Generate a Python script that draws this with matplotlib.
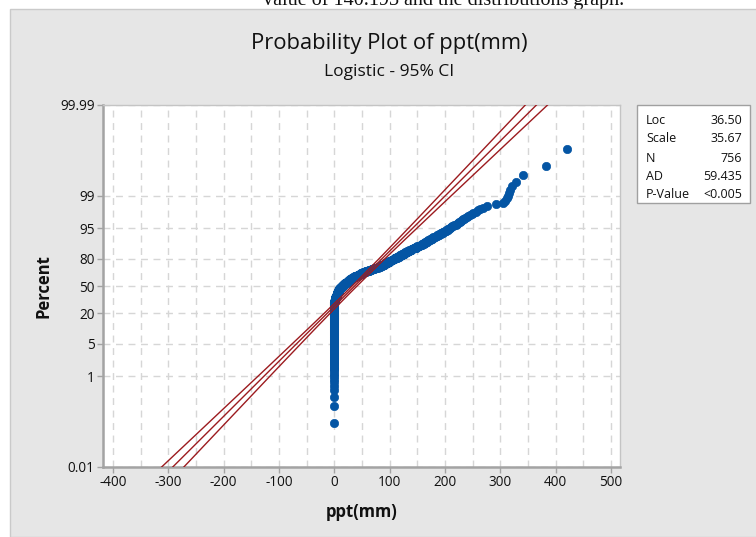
import numpy as np
import matplotlib
matplotlib.use("Agg")
import matplotlib.pyplot as plt
from matplotlib.patches import Rectangle
from matplotlib.ticker import MultipleLocator, NullLocator

# ---------------- data ----------------
# frequency table of ppt(mm) values
ppt_values = [0, 1, 2, 3, 4,
              5, 6, 7, 8, 9,
              10, 11, 12, 13, 14, 15, 16, 17, 18, 19,
              20, 21, 22, 23, 24, 25, 26, 27, 28, 29, 30, 31,
              32, 34, 36, 38, 40, 42, 44, 46, 48, 50,
              52, 54, 56, 58, 60, 62, 64, 66, 68, 70, 72, 74, 76, 78, 80,
              83, 86, 89, 92, 95, 98, 101, 104,
              107, 110, 113, 116, 119, 122, 125, 128, 131, 134,
              138, 141, 144, 147, 150, 153, 156, 159, 162,
              164, 167, 170, 173, 176, 179, 182,
              185, 189, 193, 197, 201, 205, 209,
              211, 213, 215, 217, 219, 221, 223, 225, 227, 228,
              230, 232, 234, 236, 239, 242, 245, 248, 251, 255,
              259, 263, 269, 276, 292, 305, 309, 311, 313, 315, 317, 321,
              328, 340, 383, 421]
ppt_counts = [236, 14, 18, 16, 16,
              11, 10, 10, 10, 9,
              7, 6, 6, 5, 5, 5, 5, 4, 4, 4,
              5, 4, 4, 4, 4, 4, 4, 4, 4, 4, 4, 4,
              5, 5, 5, 6, 5, 5, 5, 5, 5, 4,
              4, 4, 3, 4, 3, 4, 3, 3, 3, 3, 3, 3, 3, 3, 4,
              7, 6, 6, 7, 6, 6, 6, 6,
              6, 5, 5, 5, 5, 5, 5, 5, 5, 4,
              4, 4, 3, 4, 3, 3, 3, 3, 3,
              3, 3, 3, 3, 3, 3, 2,
              3, 3, 3, 3, 3, 3, 2,
              1, 1, 1, 1, 1, 1, 1, 1, 1, 1,
              1, 1, 1, 1, 1, 1, 1, 1, 1, 1,
              1, 1, 1, 1, 1, 1, 1, 1, 1, 1, 1, 1,
              1, 1, 1, 1]

# fitted parameters / statistics shown in the table
loc = 36.50
scale = 35.67
n_obs = 756
ad_stat = "59.435"
p_value = "<0.005"

x_ticks = [-400, -300, -200, -100, 0, 100, 200, 300, 400, 500]
y_tick_probs = [0.0001, 0.01, 0.05, 0.20, 0.50, 0.80, 0.95, 0.99, 0.9999]
y_tick_labels = ["0.01", "1", "5", "20", "50", "80", "95", "99", "99.99"]

# ---------------- derived ----------------
data = np.sort(np.repeat(ppt_values, ppt_counts))
n = len(data)
ranks = np.arange(1, n + 1)
pp = (ranks - 0.3) / (n + 0.4)          # median ranks (Benard)

z = np.linspace(-9.3, 9.3, 400)
p_line = 1.0 / (1.0 + np.exp(-z))
x_fit = loc + scale * z
se = scale / np.sqrt(n_obs) * np.sqrt(3.0 + 9.0 * z ** 2 / (3.0 + np.pi ** 2))
x_lo = x_fit - 1.96 * se
x_hi = x_fit + 1.96 * se

# ---------------- figure ----------------
W, H = 756, 537
fig = plt.figure(figsize=(W / 100, H / 100), dpi=100)
fig.patch.set_facecolor("white")

def fx(px):
    return px / W

def fy(py):
    return 1 - py / H

# cut-off text line above the panel
fig.text(fx(444), fy(5), "value of 140.193 and the distributions graph.",
         ha="center", va="baseline", fontsize=14.5, family="Liberation Serif",
         color="#111111", zorder=-1)

# grey panel
fig.patches.append(Rectangle((fx(10), 0), 1 - fx(10) + 0.01, fy(9), transform=fig.transFigure,
                             facecolor="#E6E6E6", edgecolor="#CACACA", lw=1.0, zorder=0))

ax = fig.add_axes([fx(103), fy(467), fx(620) - fx(103), fy(105) - fy(467)])
ax.set_facecolor("white")
ax.set_zorder(2)

ax.plot(data, pp, "o", ms=6, color="#0455A4", mec="#0455A4", mew=0.5, zorder=3)
for xx in (x_lo, x_fit, x_hi):
    ax.plot(xx, p_line, color="#9C1B1F", lw=1.0, zorder=4)

ax.set_yscale("logit")
ax.set_ylim(0.0001, 0.9999)
ax.set_xlim(-418, 516)
ax.set_yticks(y_tick_probs)
ax.set_yticklabels(y_tick_labels)
ax.yaxis.set_minor_locator(NullLocator())
ax.set_xticks(x_ticks)
ax.set_xticklabels([str(v) for v in x_ticks])
ax.xaxis.set_minor_locator(MultipleLocator(50))

ax.grid(True, which="major", axis="y", linestyle=(0, (5, 4)), color="#D6D6D6", lw=1.0)
ax.grid(True, which="both", axis="x", linestyle=(0, (5, 4)), color="#D6D6D6", lw=1.0)
ax.set_axisbelow(True)

for side in ("left", "bottom"):
    ax.spines[side].set_color("#A3A3A3")
    ax.spines[side].set_linewidth(1.8)
for side in ("top", "right"):
    ax.spines[side].set_color("#C4C4C4")
    ax.spines[side].set_linewidth(1.0)

ax.tick_params(axis="both", which="major", direction="out", length=4, width=1,
               color="#A3A3A3", labelcolor="#111111", labelsize=9.8, pad=2)
ax.tick_params(axis="x", which="minor", length=0)
for lab in ax.get_xticklabels() + ax.get_yticklabels():
    lab.set_family("Open Sans")

# titles and labels
fig.text(fx(389), fy(44), "Probability Plot of ppt(mm)", ha="center", va="center",
         fontsize=15.8, family="Open Sans", color="#111111")
fig.text(fx(389), fy(72), "Logistic - 95% CI", ha="center", va="center",
         fontsize=12.5, family="Open Sans", color="#111111")
fig.text(fx(43), fy(286), "Percent", ha="center", va="center", rotation=90,
         fontsize=12, family="Open Sans", fontweight="bold", color="#111111")
fig.text(fx(362), fy(512), "ppt(mm)", ha="center", va="center",
         fontsize=12, family="Open Sans", fontweight="bold", color="#111111")

# statistics box
fig.patches.append(Rectangle((fx(637), fy(203)), fx(750) - fx(637), fy(105) - fy(203),
                             transform=fig.transFigure, facecolor="white",
                             edgecolor="#A0A0A0", lw=1.0, zorder=1))
rows = [("Loc", f"{loc:.2f}", 121), ("Scale", f"{scale:.2f}", 138),
        ("N", f"{n_obs}", 158), ("AD", ad_stat, 176), ("P-Value", p_value, 195)]
for lab, val, py in rows:
    fig.text(fx(646), fy(py), lab, ha="left", va="center", fontsize=9,
             family="Open Sans", color="#111111", zorder=2)
    fig.text(fx(742), fy(py), val, ha="right", va="center", fontsize=9,
             family="Open Sans", color="#111111", zorder=2)

fig.savefig("out.png", dpi=100, facecolor=fig.get_facecolor())
